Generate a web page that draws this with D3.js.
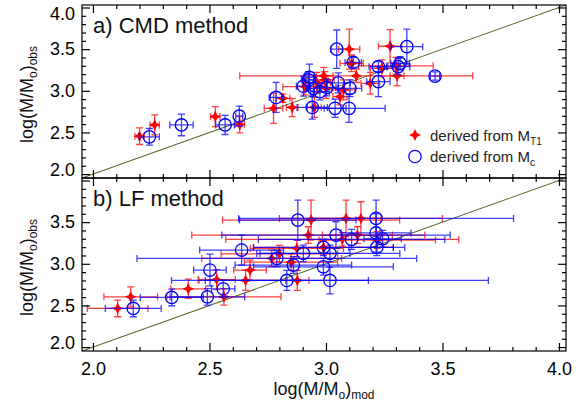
<!DOCTYPE html>
<html><head><meta charset="utf-8">
<script src="https://cdn.jsdelivr.net/npm/d3@7"></script>
<style>body{margin:0;background:#fff}svg{display:block}text{font-family:"Liberation Sans",Arial,sans-serif}</style>
</head><body><svg id="c" width="588" height="412"></svg>
<script>
// ---- data: [x, y, xerr, yerr] ----
const xTickLabels = ["2.0","2.5","3.0","3.5","4.0"];
const yTickLabelsTop = ["2.0","2.5","3.0","3.5","4.0"];
const yTickLabelsBot = ["2.0","2.5","3.0","3.5"];
const panelTitles = ["a) CMD method","b) LF method"];

const cmdRed = [
 [2.200,2.455,0.020,0.10],[2.265,2.590,0.020,0.12],[2.525,2.690,0.020,0.12],[2.630,2.595,0.020,0.10],
 [2.775,2.790,0.040,0.18],[2.815,2.910,0.030,0.05],[2.855,2.800,0.025,0.11],[2.950,2.800,0.030,0.12],
 [2.910,3.050,0.095,0.10],[2.995,3.130,0.040,0.10],[3.000,3.030,0.050,0.12],[3.060,2.930,0.030,0.10],
 [3.075,3.010,0.050,0.12],[3.100,3.500,0.045,0.24],[3.110,3.330,0.050,0.10],[3.190,3.090,0.040,0.13],
 [3.240,3.270,0.050,0.10],[3.275,3.535,0.050,0.20],[3.130,3.180,0.500,0.08],[3.305,3.180,0.030,0.12],
 [3.300,3.300,0.160,0.10],[2.990,3.180,0.040,0.10],[2.960,3.100,0.060,0.12]
];
const cmdBlue = [
 [2.242,2.447,0.043,0.10],[2.380,2.590,0.050,0.13],[2.567,2.590,0.040,0.115],[2.628,2.695,0.015,0.12],
 [2.786,2.920,0.030,0.18],[2.929,3.160,0.020,0.16],[2.903,3.055,0.030,0.12],[2.946,3.030,0.030,0.10],
 [2.974,2.990,0.040,0.10],[2.941,2.800,0.065,0.14],[3.039,2.790,0.047,0.11],[3.099,2.790,0.155,0.17],
 [2.925,3.130,0.030,0.10],[3.003,3.040,0.040,0.10],[3.053,3.096,0.050,0.12],[3.103,3.030,0.050,0.10],
 [3.046,3.500,0.025,0.23],[3.117,3.340,0.035,0.06],[3.225,3.290,0.040,0.06],[3.225,3.110,0.050,0.18],
 [3.310,3.290,0.050,0.10],[3.318,3.330,0.040,0.08],[3.347,3.530,0.068,0.21],[3.468,3.177,0.020,0.05]
];
const lfRed = [
 [2.106,2.464,0.130,0.10],[2.162,2.603,0.115,0.12],[2.409,2.700,0.075,0.115],[2.562,2.603,0.245,0.10],
 [2.531,2.810,0.080,0.12],[2.655,2.800,0.200,0.12],[2.674,2.925,0.070,0.12],[2.767,3.065,0.300,0.10],
 [2.877,2.800,0.050,0.12],[2.875,3.185,0.200,0.10],[2.924,3.345,0.500,0.10],[2.936,3.525,0.380,0.24],
 [3.086,3.545,0.150,0.22],[3.150,3.545,0.350,0.20],[3.070,3.293,0.500,0.08],[3.135,3.345,0.150,0.10],
 [3.220,3.285,0.250,0.10],[2.989,3.197,0.300,0.08],[2.800,3.120,0.250,0.10],[2.850,3.020,0.200,0.10]
];
const lfBlue = [
 [2.173,2.464,0.120,0.10],[2.338,2.596,0.135,0.10],[2.491,2.603,0.160,0.10],[2.559,2.700,0.050,0.10],
 [2.502,2.925,0.070,0.19],[2.638,3.165,0.180,0.18],[2.832,2.800,0.350,0.12],[2.879,3.525,0.250,0.24],
 [3.215,3.545,0.590,0.22],[3.043,3.345,0.490,0.16],[3.110,3.293,0.400,0.12],[3.215,3.370,0.150,0.23],
 [3.243,3.300,0.080,0.10],[3.218,3.197,0.120,0.10],[2.989,3.197,0.300,0.10],[3.017,3.125,0.300,0.10],
 [2.989,2.964,0.300,0.10],[3.017,2.800,0.680,0.16],[2.789,3.065,0.600,0.10],[2.860,2.985,0.250,0.10],
 [2.903,3.125,0.200,0.10]
];

const svg = d3.select("#c");
const dom = [1.953, 4.03];
const x = d3.scaleLinear().domain(dom).range([82, 566]);
const panels = [
  {y: d3.scaleLinear().domain(dom).range([178, 5]), red: cmdRed, blue: cmdBlue, labels: yTickLabelsTop, title: panelTitles[0], showX:false},
  {y: d3.scaleLinear().domain(dom).range([351, 178]), red: lfRed, blue: lfBlue, labels: yTickLabelsBot, title: panelTitles[1], showX:true}
];
const major = xTickLabels.map(Number);
const minor = d3.range(20, 41).map(d => d/10).filter(v => !major.some(m => Math.abs(m-v) < 1e-6));
const fs = 18;

panels.forEach((p, i) => {
  const y = p.y;
  const y0 = y.range()[0], y1 = y.range()[1];
  const g = svg.append("g");
  const cid = "clip" + i;
  svg.append("clipPath").attr("id", cid).append("rect")
    .attr("x", 82).attr("y", y1).attr("width", 484).attr("height", y0 - y1);
  const plot = g.append("g").attr("clip-path", `url(#${cid})`);
  plot.append("line").attr("x1", x(dom[0])).attr("y1", y(dom[0])).attr("x2", x(dom[1])).attr("y2", y(dom[1]))
    .attr("stroke", "#5b6b2c").attr("stroke-width", 1.1);

  const cap = 3.5;
  function errs(data, color, op) {
    const e = plot.append("g").attr("stroke", color).attr("stroke-width", 1.3).attr("stroke-opacity", op).attr("fill", "none");
    data.forEach(d => {
      const cx = x(d[0]), cy = y(d[1]);
      const xl = x(d[0]-d[2]), xr = x(d[0]+d[2]), yt = y(d[1]+d[3]), yb = y(d[1]-d[3]);
      e.append("path").attr("d",
        `M${xl},${cy}H${xr}M${xl},${cy-cap}V${cy+cap}M${xr},${cy-cap}V${cy+cap}` +
        `M${cx},${yt}V${yb}M${cx-cap},${yt}H${cx+cap}M${cx-cap},${yb}H${cx+cap}`);
    });
  }
  const star = "M0,-6L1.9,-1.9L6,0L1.9,1.9L0,6L-1.9,1.9L-6,0L-1.9,-1.9Z";
  errs(p.red, "#ff0000", 0.75);
  plot.append("g").selectAll("path").data(p.red).join("path")
    .attr("d", star).attr("fill", "#ff0000")
    .attr("transform", d => `translate(${x(d[0])},${y(d[1])})`);
  errs(p.blue, "#0000ff", 0.75);
  plot.append("g").selectAll("circle").data(p.blue).join("circle")
    .attr("cx", d => x(d[0])).attr("cy", d => y(d[1])).attr("r", 6.2)
    .attr("fill", "none").attr("stroke", "#0000ff").attr("stroke-width", 1.3);

  const mk = (gen, tr, size, vals, fmt) => {
    const a = g.append("g").attr("transform", tr)
      .call(gen.tickValues(vals).tickSize(size).tickFormat(fmt || (() => "")));
    a.select(".domain").remove();
    a.selectAll("line").attr("stroke", "#000").attr("stroke-width", 1.2);
    return a;
  };
  const ymaj = p.labels.map(Number);
  const yAll = major;
  const ymin = minor;
  const left = mk(d3.axisLeft(y).tickPadding(7), "translate(82,0)", -8, yAll,
    v => ymaj.some(m => Math.abs(m-v) < 1e-6) ? d3.format(".1f")(v) : "");
  left.selectAll("text").attr("font-size", fs).attr("fill", "#000")
    .attr("font-family", '"Liberation Sans",Arial,sans-serif')
    .attr("dy", v => v === 4.0 ? "0.65em" : (v === 2.0 ? "0.1em" : "0.32em"));
  mk(d3.axisLeft(y), "translate(82,0)", -4, ymin);
  mk(d3.axisRight(y), "translate(566,0)", -8, yAll);
  mk(d3.axisRight(y), "translate(566,0)", -4, ymin);
  mk(d3.axisTop(x), `translate(0,${y1})`, -8, major);
  mk(d3.axisTop(x), `translate(0,${y1})`, -4, minor);
  const bot = mk(d3.axisBottom(x).tickPadding(11), `translate(0,${y0})`, -8, major,
    p.showX ? (v => d3.format(".1f")(v)) : null);
  bot.selectAll("text").attr("font-size", fs).attr("fill", "#000")
    .attr("font-family", '"Liberation Sans",Arial,sans-serif');
  mk(d3.axisBottom(x), `translate(0,${y0})`, -4, minor);

  g.append("rect").attr("x", 82).attr("y", y1).attr("width", 484).attr("height", y0 - y1)
    .attr("fill", "none").attr("stroke", "#000").attr("stroke-width", 1.2);

  g.append("text").attr("x", 93).attr("y", y1 + 28).attr("font-size", 22).attr("fill", "#111").text(p.title);

  const t = g.append("text").attr("transform", `translate(33,${(y0 + y1) / 2 + 3}) rotate(-90)`)
    .attr("text-anchor", "middle").attr("font-size", 18).attr("fill", "#111");
  t.append("tspan").text("log(M/M");
  t.append("tspan").attr("font-size", 12).attr("dy", 4).text("o");
  t.append("tspan").attr("dy", -4).text(")");
  t.append("tspan").attr("font-size", 12).attr("dy", 4).text("obs");
});

const xt = svg.append("text").attr("x", 324).attr("y", 395).attr("text-anchor", "middle").attr("font-size", 18).attr("fill", "#111");
xt.append("tspan").text("log(M/M");
xt.append("tspan").attr("font-size", 12).attr("dy", 4).text("o");
xt.append("tspan").attr("dy", -4).text(")");
xt.append("tspan").attr("font-size", 12).attr("dy", 4).text("mod");

const lg = svg.append("g");
lg.append("path").attr("d", "M0,-6L1.9,-1.9L6,0L1.9,1.9L0,6L-1.9,1.9L-6,0L-1.9,-1.9Z").attr("fill", "#ff0000")
  .attr("transform", "translate(415,135)");
lg.append("circle").attr("cx", 415).attr("cy", 156.5).attr("r", 6.2).attr("fill", "none").attr("stroke", "#0000ff").attr("stroke-width", 1.3);
const l1 = lg.append("text").attr("x", 430).attr("y", 140.5).attr("font-size", 15).attr("fill", "#222");
l1.append("tspan").text("derived from M");
l1.append("tspan").attr("font-size", 10).attr("dy", 4).text("T1");
const l2 = lg.append("text").attr("x", 430).attr("y", 162).attr("font-size", 15).attr("fill", "#222");
l2.append("tspan").text("derived from M");
l2.append("tspan").attr("font-size", 10).attr("dy", 4).text("c");
</script></body></html>
